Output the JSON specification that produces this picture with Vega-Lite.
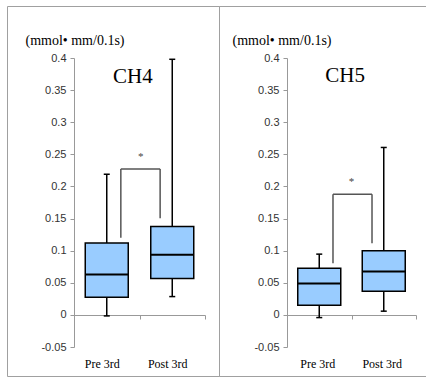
{
  "$schema": "https://vega.github.io/schema/vega-lite/v6.json",
  "background": "white",
  "padding": {"left": 6, "top": 5, "right": 0, "bottom": 2},
  "spacing": 0,
  "bounds": "flush",
  "config": {
    "view": {"stroke": "#a0a0a0", "strokeWidth": 1},
    "axis": {"grid": false}
  },
  "datasets": {
    "boxes": [
      {"panel": "CH4", "cat": "Pre 3rd", "min": -0.0016, "q1": 0.0276, "med": 0.063, "q3": 0.112, "max": 0.219},
      {"panel": "CH4", "cat": "Post 3rd", "min": 0.0285, "q1": 0.0566, "med": 0.0935, "q3": 0.1376, "max": 0.398},
      {"panel": "CH5", "cat": "Pre 3rd", "min": -0.0042, "q1": 0.0151, "med": 0.0488, "q3": 0.0728, "max": 0.0946},
      {"panel": "CH5", "cat": "Post 3rd", "min": 0.0058, "q1": 0.0369, "med": 0.0675, "q3": 0.0997, "max": 0.2607}
    ],
    "brackets": [
      {"panel": "CH4", "cat": "Pre 3rd", "side": "left", "lo": 0.12, "hi": 0.227, "to": "Post 3rd"},
      {"panel": "CH4", "cat": "Post 3rd", "side": "right", "lo": 0.1506, "hi": 0.227, "to": "Post 3rd"},
      {"panel": "CH5", "cat": "Pre 3rd", "side": "left", "lo": 0.0805, "hi": 0.188, "to": "Post 3rd"},
      {"panel": "CH5", "cat": "Post 3rd", "side": "right", "lo": 0.1117, "hi": 0.188, "to": "Post 3rd"}
    ],
    "labels": [
      {"panel": "CH4", "cat": "Pre 3rd", "name": "CH4", "nameY": 0.3615, "star": "*", "starY": 0.241},
      {"panel": "CH5", "cat": "Pre 3rd", "name": "CH5", "nameY": 0.363, "star": "*", "starY": 0.2018}
    ]
  },
  "hconcat": [
    {
      "width": 212,
      "height": 370,
      "layer": [
        {
          "data": {"name": "boxes"},
          "transform": [{"filter": "datum.panel == 'CH4'"}],
          "mark": {"type": "rule", "color": "black", "strokeWidth": 1.5},
          "encoding": {
            "x": {
              "field": "cat", "type": "nominal", "sort": ["Pre 3rd", "Post 3rd"],
              "scale": {"domain": ["Pre 3rd", "Post 3rd"], "range": [67, 198], "paddingInner": 0, "paddingOuter": 0},
              "axis": {
                "title": null, "orient": "bottom", "offset": -61, "domainColor": "#999", "tickColor": "#999",
                "tickSize": 4, "tickBand": "extent", "labelAngle": 0, "labelFont": "Liberation Serif",
                "labelFontSize": 12, "labelColor": "black", "labelBaseline": "alphabetic", "labelPadding": 48.8,
                "labelOffset": -5
              }
            },
            "y": {
              "field": "min", "type": "quantitative",
              "scale": {"domain": [-0.05, 0.4], "range": [341, 52], "nice": false, "zero": false},
              "axis": {
                "values": [-0.05, 0, 0.05, 0.1, 0.15, 0.2, 0.25, 0.3, 0.35, 0.4],
                "labelExpr": "'' + datum.value", "offset": -67, "domainColor": "#999", "tickColor": "#999",
                "tickSize": 4, "labelPadding": 4, "labelFont": "Liberation Sans", "labelFontSize": 11,
                "labelColor": "#333", "labelFlush": false, "labelOverlap": false,
                "title": "(mmol• mm/0.1s)", "titleAngle": 0, "titleFont": "Liberation Serif", "titleFontSize": 14,
                "titleFontWeight": "normal", "titleColor": "black", "titleAlign": "left", "titleBaseline": "alphabetic",
                "titleX": -49, "titleY": 38.5
              }
            },
            "y2": {"field": "max"}
          }
        },
        {
          "data": {"name": "boxes"},
          "transform": [{"filter": "datum.panel == 'CH4'"}],
          "mark": {"type": "bar", "fill": "#99ccff", "stroke": "black", "strokeWidth": 1.5, "size": 43},
          "encoding": {
            "x": {"field": "cat", "type": "nominal"},
            "y": {"field": "q1", "type": "quantitative"},
            "y2": {"field": "q3"}
          }
        },
        {
          "data": {"name": "boxes"},
          "transform": [{"filter": "datum.panel == 'CH4'"}],
          "mark": {"type": "tick", "color": "black", "thickness": 2, "size": 43, "opacity": 1},
          "encoding": {
            "x": {"field": "cat", "type": "nominal"},
            "y": {"field": "med", "type": "quantitative"}
          }
        },
        {
          "data": {"name": "boxes"},
          "transform": [{"filter": "datum.panel == 'CH4'"}],
          "mark": {"type": "tick", "color": "black", "thickness": 1.5, "size": 6, "opacity": 1},
          "encoding": {
            "x": {"field": "cat", "type": "nominal"},
            "y": {"field": "min", "type": "quantitative"}
          }
        },
        {
          "data": {"name": "boxes"},
          "transform": [{"filter": "datum.panel == 'CH4'"}],
          "mark": {"type": "tick", "color": "black", "thickness": 1.5, "size": 6, "opacity": 1},
          "encoding": {
            "x": {"field": "cat", "type": "nominal"},
            "y": {"field": "max", "type": "quantitative"}
          }
        },
        {
          "data": {"name": "brackets"},
          "transform": [{"filter": "datum.panel == 'CH4' && datum.side == 'left'"}],
          "mark": {"type": "rule", "color": "#555", "strokeWidth": 1.5},
          "encoding": {
            "x": {"field": "cat", "type": "nominal", "bandPosition": 0.715},
            "y": {"field": "lo", "type": "quantitative"},
            "y2": {"field": "hi"}
          }
        },
        {
          "data": {"name": "brackets"},
          "transform": [{"filter": "datum.panel == 'CH4' && datum.side == 'right'"}],
          "mark": {"type": "rule", "color": "#555", "strokeWidth": 1.5},
          "encoding": {
            "x": {"field": "cat", "type": "nominal", "bandPosition": 0.315},
            "y": {"field": "lo", "type": "quantitative"},
            "y2": {"field": "hi"}
          }
        },
        {
          "data": {"name": "brackets"},
          "transform": [{"filter": "datum.panel == 'CH4' && datum.side == 'left'"}],
          "mark": {"type": "rule", "color": "#555", "strokeWidth": 1.5},
          "encoding": {
            "x": {"field": "cat", "type": "nominal", "bandPosition": 0.715},
            "x2": {"field": "to", "bandPosition": 0.315},
            "y": {"field": "hi", "type": "quantitative"}
          }
        },
        {
          "data": {"name": "labels"},
          "transform": [{"filter": "datum.panel == 'CH4'"}],
          "mark": {"type": "text", "font": "Liberation Serif", "fontSize": 21, "baseline": "alphabetic", "align": "center", "color": "black"},
          "encoding": {
            "x": {"field": "cat", "type": "nominal", "bandPosition": 0.9},
            "y": {"field": "nameY", "type": "quantitative"},
            "text": {"field": "name"}
          }
        },
        {
          "data": {"name": "labels"},
          "transform": [{"filter": "datum.panel == 'CH4'"}],
          "mark": {"type": "text", "font": "Liberation Serif", "fontSize": 11, "baseline": "alphabetic", "align": "center", "color": "#444"},
          "encoding": {
            "x": {"field": "cat", "type": "nominal", "bandPosition": 1.02},
            "y": {"field": "starY", "type": "quantitative"},
            "text": {"field": "star"}
          }
        }
      ]
    },
    {
      "width": 208,
      "height": 370,
      "layer": [
        {
          "data": {"name": "boxes"},
          "transform": [{"filter": "datum.panel == 'CH5'"}],
          "mark": {"type": "rule", "color": "black", "strokeWidth": 1.5},
          "encoding": {
            "x": {
              "field": "cat", "type": "nominal", "sort": ["Pre 3rd", "Post 3rd"],
              "scale": {"domain": ["Pre 3rd", "Post 3rd"], "range": [68, 197], "paddingInner": 0, "paddingOuter": 0},
              "axis": {
                "title": null, "orient": "bottom", "offset": -61, "domainColor": "#999", "tickColor": "#999",
                "tickSize": 4, "tickBand": "extent", "labelAngle": 0, "labelFont": "Liberation Serif",
                "labelFontSize": 12, "labelColor": "black", "labelBaseline": "alphabetic", "labelPadding": 48.8,
                "labelOffset": -2
              }
            },
            "y": {
              "field": "min", "type": "quantitative",
              "scale": {"domain": [-0.05, 0.4], "range": [341, 52], "nice": false, "zero": false},
              "axis": {
                "values": [-0.05, 0, 0.05, 0.1, 0.15, 0.2, 0.25, 0.3, 0.35, 0.4],
                "labelExpr": "'' + datum.value", "offset": -68, "domainColor": "#999", "tickColor": "#999",
                "tickSize": 4, "labelPadding": 4, "labelFont": "Liberation Sans", "labelFontSize": 11,
                "labelColor": "#333", "labelFlush": false, "labelOverlap": false,
                "title": "(mmol• mm/0.1s)", "titleAngle": 0, "titleFont": "Liberation Serif", "titleFontSize": 14,
                "titleFontWeight": "normal", "titleColor": "black", "titleAlign": "left", "titleBaseline": "alphabetic",
                "titleX": -55, "titleY": 38.5
              }
            },
            "y2": {"field": "max"}
          }
        },
        {
          "data": {"name": "boxes"},
          "transform": [{"filter": "datum.panel == 'CH5'"}],
          "mark": {"type": "bar", "fill": "#99ccff", "stroke": "black", "strokeWidth": 1.5, "size": 43},
          "encoding": {
            "x": {"field": "cat", "type": "nominal"},
            "y": {"field": "q1", "type": "quantitative"},
            "y2": {"field": "q3"}
          }
        },
        {
          "data": {"name": "boxes"},
          "transform": [{"filter": "datum.panel == 'CH5'"}],
          "mark": {"type": "tick", "color": "black", "thickness": 2, "size": 43, "opacity": 1},
          "encoding": {
            "x": {"field": "cat", "type": "nominal"},
            "y": {"field": "med", "type": "quantitative"}
          }
        },
        {
          "data": {"name": "boxes"},
          "transform": [{"filter": "datum.panel == 'CH5'"}],
          "mark": {"type": "tick", "color": "black", "thickness": 1.5, "size": 6, "opacity": 1},
          "encoding": {
            "x": {"field": "cat", "type": "nominal"},
            "y": {"field": "min", "type": "quantitative"}
          }
        },
        {
          "data": {"name": "boxes"},
          "transform": [{"filter": "datum.panel == 'CH5'"}],
          "mark": {"type": "tick", "color": "black", "thickness": 1.5, "size": 6, "opacity": 1},
          "encoding": {
            "x": {"field": "cat", "type": "nominal"},
            "y": {"field": "max", "type": "quantitative"}
          }
        },
        {
          "data": {"name": "brackets"},
          "transform": [{"filter": "datum.panel == 'CH5' && datum.side == 'left'"}],
          "mark": {"type": "rule", "color": "#555", "strokeWidth": 1.5},
          "encoding": {
            "x": {"field": "cat", "type": "nominal", "bandPosition": 0.713},
            "y": {"field": "lo", "type": "quantitative"},
            "y2": {"field": "hi"}
          }
        },
        {
          "data": {"name": "brackets"},
          "transform": [{"filter": "datum.panel == 'CH5' && datum.side == 'right'"}],
          "mark": {"type": "rule", "color": "#555", "strokeWidth": 1.5},
          "encoding": {
            "x": {"field": "cat", "type": "nominal", "bandPosition": 0.318},
            "y": {"field": "lo", "type": "quantitative"},
            "y2": {"field": "hi"}
          }
        },
        {
          "data": {"name": "brackets"},
          "transform": [{"filter": "datum.panel == 'CH5' && datum.side == 'left'"}],
          "mark": {"type": "rule", "color": "#555", "strokeWidth": 1.5},
          "encoding": {
            "x": {"field": "cat", "type": "nominal", "bandPosition": 0.713},
            "x2": {"field": "to", "bandPosition": 0.318},
            "y": {"field": "hi", "type": "quantitative"}
          }
        },
        {
          "data": {"name": "labels"},
          "transform": [{"filter": "datum.panel == 'CH5'"}],
          "mark": {"type": "text", "font": "Liberation Serif", "fontSize": 21, "baseline": "alphabetic", "align": "center", "color": "black"},
          "encoding": {
            "x": {"field": "cat", "type": "nominal", "bandPosition": 0.9},
            "y": {"field": "nameY", "type": "quantitative"},
            "text": {"field": "name"}
          }
        },
        {
          "data": {"name": "labels"},
          "transform": [{"filter": "datum.panel == 'CH5'"}],
          "mark": {"type": "text", "font": "Liberation Serif", "fontSize": 11, "baseline": "alphabetic", "align": "center", "color": "#444"},
          "encoding": {
            "x": {"field": "cat", "type": "nominal", "bandPosition": 1.0},
            "y": {"field": "starY", "type": "quantitative"},
            "text": {"field": "star"}
          }
        }
      ]
    }
  ]
}
